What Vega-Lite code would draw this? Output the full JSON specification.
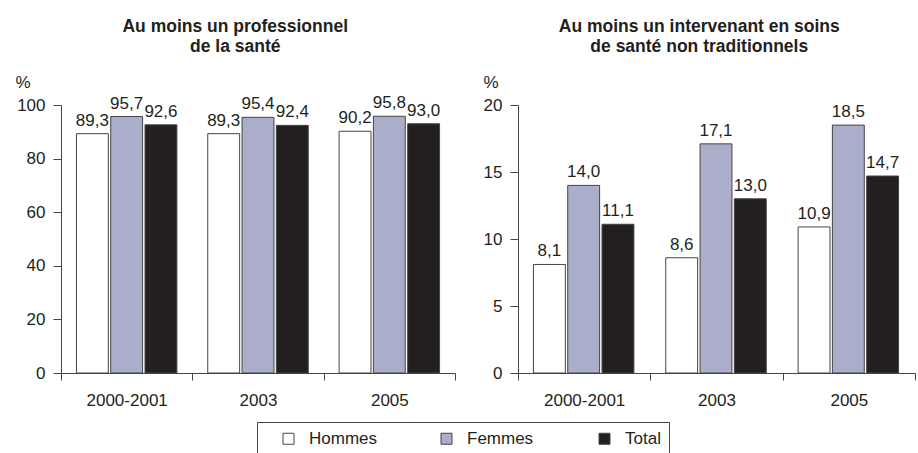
{
  "$schema": "https://vega.github.io/schema/vega-lite/v6.json",
  "padding": {"left": 15, "top": 17, "right": 4, "bottom": 0},
  "background": "white",
  "datasets": {
    "sante": [
      {"periode": "2000-2001", "sexe": "Hommes", "pct": 89.3, "label": "89,3"},
      {"periode": "2000-2001", "sexe": "Femmes", "pct": 95.7, "label": "95,7"},
      {"periode": "2000-2001", "sexe": "Total", "pct": 92.6, "label": "92,6"},
      {"periode": "2003", "sexe": "Hommes", "pct": 89.3, "label": "89,3"},
      {"periode": "2003", "sexe": "Femmes", "pct": 95.4, "label": "95,4"},
      {"periode": "2003", "sexe": "Total", "pct": 92.4, "label": "92,4"},
      {"periode": "2005", "sexe": "Hommes", "pct": 90.2, "label": "90,2"},
      {"periode": "2005", "sexe": "Femmes", "pct": 95.8, "label": "95,8"},
      {"periode": "2005", "sexe": "Total", "pct": 93.0, "label": "93,0"}
    ],
    "nontrad": [
      {"periode": "2000-2001", "sexe": "Hommes", "pct": 8.1, "label": "8,1"},
      {"periode": "2000-2001", "sexe": "Femmes", "pct": 14.0, "label": "14,0"},
      {"periode": "2000-2001", "sexe": "Total", "pct": 11.1, "label": "11,1"},
      {"periode": "2003", "sexe": "Hommes", "pct": 8.6, "label": "8,6"},
      {"periode": "2003", "sexe": "Femmes", "pct": 17.1, "label": "17,1"},
      {"periode": "2003", "sexe": "Total", "pct": 13.0, "label": "13,0"},
      {"periode": "2005", "sexe": "Hommes", "pct": 10.9, "label": "10,9"},
      {"periode": "2005", "sexe": "Femmes", "pct": 18.5, "label": "18,5"},
      {"periode": "2005", "sexe": "Total", "pct": 14.7, "label": "14,7"}
    ]
  },
  "config": {
    "font": "Liberation Sans",
    "view": {"stroke": null},
    "axis": {
      "labelFont": "Liberation Sans",
      "labelFontSize": 17,
      "labelColor": "#231f20",
      "domainColor": "#444444",
      "tickColor": "#444444",
      "grid": false,
      "titleFont": "Liberation Sans",
      "titleFontWeight": "normal",
      "titleFontSize": 17,
      "titleColor": "#231f20"
    },
    "title": {"font": "Liberation Sans", "fontSize": 17.5, "fontWeight": "bold", "color": "#231f20", "lineHeight": 20, "offset": 18, "frame": "bounds", "anchor": "middle"}
  },
  "spacing": 27,
  "resolve": {"scale": {"color": "shared"}},
  "hconcat": [
    {
      "title": {"text": ["Au moins un professionnel", "de la santé"]},
      "width": 394,
      "height": 268,
      "data": {"name": "sante"},
      "encoding": {
        "x": {"field": "periode", "type": "nominal", "sort": ["2000-2001", "2003", "2005"],
          "scale": {"paddingInner": 0, "paddingOuter": 0},
          "axis": {"title": null, "labelAngle": 0, "tickBand": "extent", "tickSize": 7, "labelPadding": 12}},
        "xOffset": {"field": "sexe", "type": "nominal", "sort": ["Hommes", "Femmes", "Total"],
          "scale": {"paddingInner": 0.07, "paddingOuter": 0.45}},
        "y": {"field": "pct", "type": "quantitative", "scale": {"domain": [0, 100]},
          "axis": {"values": [0, 20, 40, 60, 80, 100], "title": "%", "titleAngle": 0, "titleAlign": "left", "titleBaseline": "middle", "titleX": -46, "titleY": -23, "tickSize": 8, "labelPadding": 8}}
      },
      "layer": [
        {
          "mark": {"type": "bar", "stroke": "#444444", "strokeWidth": 1},
          "encoding": {
            "color": {"field": "sexe", "type": "nominal", "sort": ["Hommes", "Femmes", "Total"],
              "scale": {"domain": ["Hommes", "Femmes", "Total"], "range": ["#ffffff", "#aaaecb", "#231f20"]},
              "legend": {"title": null, "orient": "none", "legendX": 196, "legendY": 317, "direction": "horizontal", "columns": 3,
                "symbolType": "square", "symbolSize": 121, "symbolStrokeColor": "#231f20", "symbolStrokeWidth": 1,
                "labelFontSize": 17, "labelColor": "#231f20", "labelFont": "Liberation Sans", "labelOffset": 12, "symbolOffset": 15,
                "labelExpr": "datum.label == 'Total' ? 'Total\u00a0\u00a0\u00a0\u00a0' : datum.label",
                "padding": 8, "strokeColor": "#444444", "columnPadding": 45, "gridAlign": "all"}}
          }
        },
        {
          "mark": {"type": "text", "baseline": "bottom", "dy": -4, "fontSize": 17, "color": "#231f20"},
          "encoding": {"text": {"field": "label"}}
        }
      ]
    },
    {
      "title": {"text": ["Au moins un intervenant en soins", "de santé non traditionnels"]},
      "width": 397,
      "height": 268,
      "data": {"name": "nontrad"},
      "encoding": {
        "x": {"field": "periode", "type": "nominal", "sort": ["2000-2001", "2003", "2005"],
          "scale": {"paddingInner": 0, "paddingOuter": 0},
          "axis": {"title": null, "labelAngle": 0, "tickBand": "extent", "tickSize": 7, "labelPadding": 12}},
        "xOffset": {"field": "sexe", "type": "nominal", "sort": ["Hommes", "Femmes", "Total"],
          "scale": {"paddingInner": 0.07, "paddingOuter": 0.45}},
        "y": {"field": "pct", "type": "quantitative", "scale": {"domain": [0, 20]},
          "axis": {"values": [0, 5, 10, 15, 20], "title": "%", "titleAngle": 0, "titleAlign": "left", "titleBaseline": "middle", "titleX": -35, "titleY": -23, "tickSize": 8, "labelPadding": 8}}
      },
      "layer": [
        {
          "mark": {"type": "bar", "stroke": "#444444", "strokeWidth": 1},
          "encoding": {
            "color": {"field": "sexe", "type": "nominal", "sort": ["Hommes", "Femmes", "Total"],
              "scale": {"domain": ["Hommes", "Femmes", "Total"], "range": ["#ffffff", "#aaaecb", "#231f20"]}}
          }
        },
        {
          "mark": {"type": "text", "baseline": "bottom", "dy": -4, "fontSize": 17, "color": "#231f20"},
          "encoding": {"text": {"field": "label"}}
        }
      ]
    }
  ]
}
